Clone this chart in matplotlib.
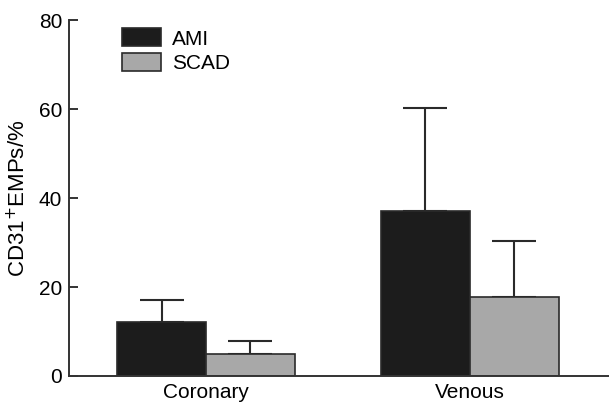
import matplotlib
matplotlib.use("Agg")
import matplotlib.pyplot as plt
import numpy as np

plt.rcParams['font.family'] = ['Liberation Sans', 'DejaVu Sans']

categories = ["Coronary", "Venous"]
series = ["AMI", "SCAD"]
ami_mean = [12.2, 37.0]
ami_err = [4.8, 23.2]
scad_mean = [4.9, 17.8]
scad_err = [2.9, 12.6]
colors = ["#1c1c1c", "#a8a8a8"]

fig = plt.figure(figsize=(6.09, 4.03), dpi=100)
ax = fig.add_axes([0.1133, 0.067, 0.8867, 0.883])

x = np.arange(len(categories))
w = 0.337
edge = "#2a2a2a"
ax.bar(x - w/2, ami_mean, w, color=colors[0], edgecolor=edge, linewidth=1.2, label=series[0], zorder=2)
ax.bar(x + w/2, scad_mean, w, color=colors[1], edgecolor=edge, linewidth=1.2, label=series[1], zorder=2)
ax.errorbar(x - w/2, ami_mean, yerr=[[0]*2, ami_err], fmt='none', ecolor="#2a2a2a",
            elinewidth=1.5, capsize=15.8, capthick=1.5, zorder=1)
ax.errorbar(x + w/2, scad_mean, yerr=[[0]*2, scad_err], fmt='none', ecolor="#2a2a2a",
            elinewidth=1.5, capsize=15.8, capthick=1.5, zorder=1)

ax.set_xlim(-0.519, 1.527)
ax.set_ylim(0, 80)
ax.set_yticks([0, 20, 40, 60, 80])
ax.set_xticks(x)
ax.set_xticklabels(categories)
ax.tick_params(axis='x', length=0, pad=5, labelsize=15)
ax.tick_params(axis='y', direction='in', length=6.5, width=1.4, color="#333333", labelsize=15, pad=5)
for s in ['top', 'right']:
    ax.spines[s].set_visible(False)
for s in ['left', 'bottom']:
    ax.spines[s].set_linewidth(1.4)
    ax.spines[s].set_color("#333333")
ax.spines['bottom'].set_zorder(3)

ax.set_ylabel("CD31$^{+}$EMPs/%", fontsize=16, labelpad=6)

leg = ax.legend(loc='upper left', bbox_to_anchor=(0.098, 0.977), frameon=False, fontsize=15,
                handlelength=1.87, handleheight=0.96, handletextpad=0.55, labelspacing=0.22,
                borderaxespad=0, borderpad=0)

fig.savefig("out.png", dpi=100)
